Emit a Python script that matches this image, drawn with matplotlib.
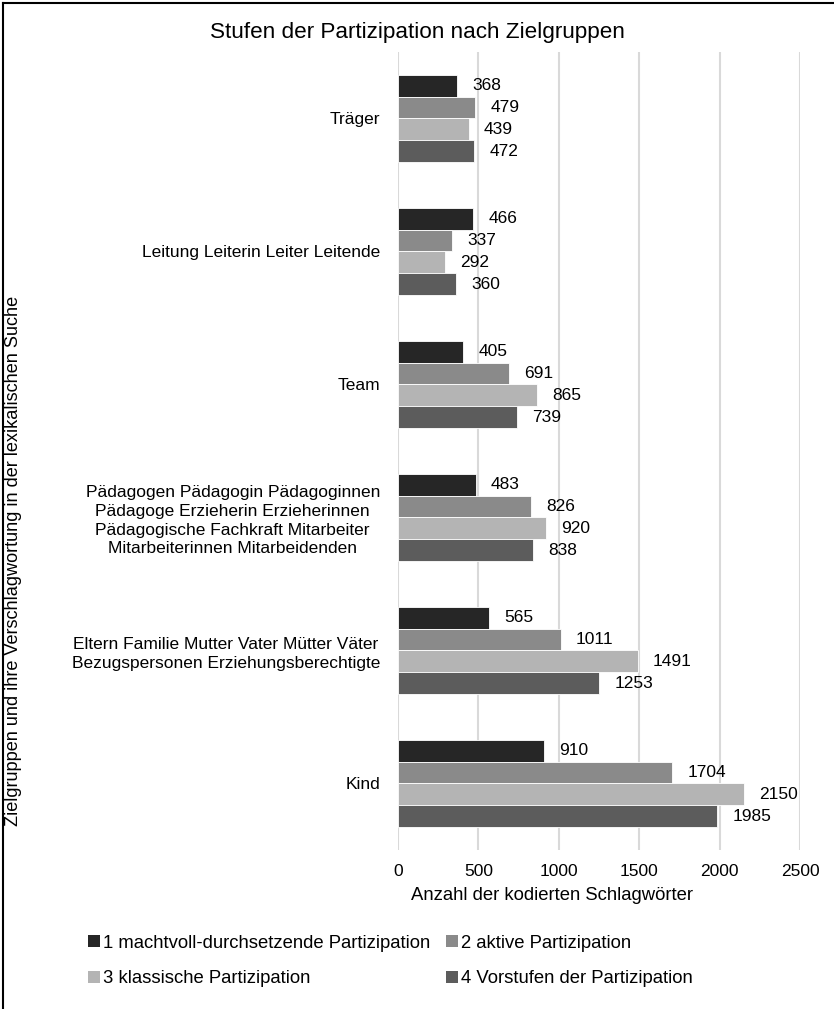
import numpy as np
import matplotlib
matplotlib.use("Agg")
import matplotlib.pyplot as plt
from matplotlib.lines import Line2D
from matplotlib.patches import Patch

plt.rcParams["font.family"] = ["Liberation Sans", "DejaVu Sans"]

groups = [
    "Träger",
    "Leitung Leiterin Leiter Leitende",
    "Team",
    "Pädagogen Pädagogin Pädagoginnen\nPädagoge Erzieherin Erzieherinnen\nPädagogische Fachkraft Mitarbeiter\nMitarbeiterinnen Mitarbeidenden",
    "Eltern Familie Mutter Vater Mütter Väter\nBezugspersonen Erziehungsberechtigte",
    "Kind",
]
series_names = [
    "1 machtvoll-durchsetzende Partizipation",
    "2 aktive Partizipation",
    "3 klassische Partizipation",
    "4 Vorstufen der Partizipation",
]
stufe1 = [368, 466, 405, 483, 565, 910]
stufe2 = [479, 337, 691, 826, 1011, 1704]
stufe3 = [439, 292, 865, 920, 1491, 2150]
stufe4 = [472, 360, 739, 838, 1253, 1985]
colors = ["#262626", "#8a8a8a", "#b4b4b4", "#5c5c5c"]

fig = plt.figure(figsize=(8.34, 10.09), dpi=100)
ax = fig.add_axes([0.4772, 0.1576, 0.4820, 0.7909])

y = np.arange(len(groups))
h = 0.165
for i, (vals, c, name) in enumerate(zip([stufe1, stufe2, stufe3, stufe4], colors, series_names)):
    pos = y - 1.5 * h + i * h
    ax.barh(pos, vals, height=h, color=c, edgecolor="white", linewidth=0.6, label=name, zorder=3)
    for p, v in zip(pos, vals):
        ax.annotate(str(v), (v, p), xytext=(11, 0), textcoords="offset points",
                    va="center", ha="left", fontsize=12.5, color="black")

ax.set_ylim(len(groups) - 0.5, -0.5)
ax.set_xlim(0, 2500)
ax.set_xticks(range(0, 2501, 500))
ax.set_yticks(y)
ax.set_yticklabels(groups, fontsize=12.5, ha="right", multialignment="center", linespacing=1.3)
ax.tick_params(axis="y", length=0, pad=13)
ax.tick_params(axis="x", length=0, labelsize=12.5, pad=10)
ax.grid(axis="x", color="#d9d9d9", linewidth=1.5, zorder=0)
for s in ax.spines.values():
    s.set_visible(False)

ax.set_xlabel("Anzahl der kodierten Schlagwörter", fontsize=13.3)
ax.xaxis.set_label_coords(0.383, -0.047)
fig.text(0.5, 0.968, "Stufen der Partizipation nach Zielgruppen", ha="center", va="center", fontsize=16.2)
fig.text(0.016, 0.444, "Zielgruppen und ihre Verschlagwortung in der lexikalischen Suche",
         rotation=90, ha="center", va="center", fontsize=13.1)

# legend filled row by row
order = [0, 2, 1, 3]
handles = [Patch(facecolor=colors[k], edgecolor="none") for k in order]
labels = [series_names[k] for k in order]
fig.legend(handles, labels, ncol=2, loc="center", bbox_to_anchor=(0.468, 0.0476),
           frameon=False, fontsize=13.3, handlelength=0.65, handleheight=0.65,
           handletextpad=0.17, columnspacing=0.87, labelspacing=1.0)

# frame lines on the left and top edge
fig.add_artist(Line2D([0.004, 0.004], [0, 0.997], color="black", linewidth=1.5, transform=fig.transFigure))
fig.add_artist(Line2D([0.004, 1], [0.997, 0.997], color="black", linewidth=1.5, transform=fig.transFigure))

fig.savefig("out.png", dpi=100)
